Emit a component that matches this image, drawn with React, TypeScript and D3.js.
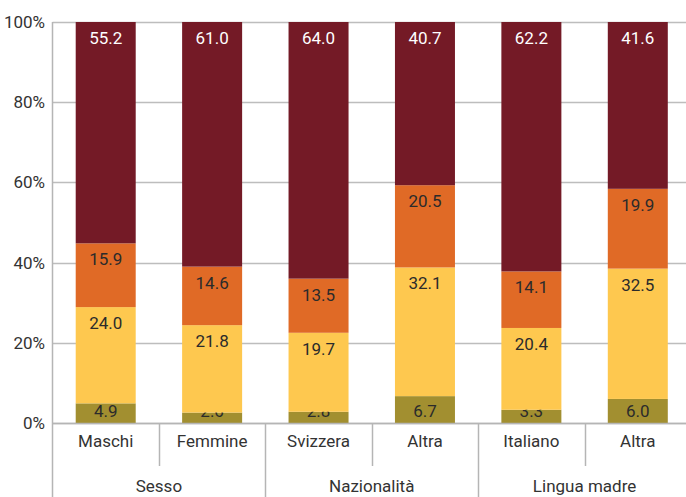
import { useRef, useEffect } from "react";
import * as d3 from "d3";

const categories = ["Maschi", "Femmine", "Svizzera", "Altra", "Italiano", "Altra"];
const groups = ["Sesso", "Nazionalità", "Lingua madre"];
const groupSize = 2;

// bottom -> top
const level1 = [4.9, 2.6, 2.8, 6.7, 3.3, 6.0];
const level2 = [24.0, 21.8, 19.7, 32.1, 20.4, 32.5];
const level3 = [15.9, 14.6, 13.5, 20.5, 14.1, 19.9];
const level4 = [55.2, 61.0, 64.0, 40.7, 62.2, 41.6];

const yTicks = [0, 20, 40, 60, 80, 100];

const colors = ["#a28f30", "#fec84f", "#e06a26", "#741a26"];
const textColors = ["#2b2b2b", "#2b2b2b", "#2b2b2b", "#ffffff"];

const font = "Roboto, 'Liberation Sans Narrow', sans-serif";

export default function App() {
  const ref = useRef<SVGSVGElement>(null);

  useEffect(() => {
    const width = 686;
    const height = 497;
    const left = 52.5;
    const right = 691;
    const top = 22;
    const bottom = 423;

    const svg = d3.select(ref.current);
    svg.selectAll("*").remove();

    const x = d3.scaleBand<number>()
      .domain(d3.range(categories.length))
      .range([left, right])
      .paddingInner(0)
      .paddingOuter(0);
    const y = d3.scaleLinear().domain([0, 100]).range([bottom, top]);

    const rows = categories.map((c, i) => ({
      i, name: c, v: [level1[i], level2[i], level3[i], level4[i]],
    }));
    const stack = d3.stack<any, number>()
      .keys([0, 1, 2, 3])
      .value((d, k) => d.v[k]);
    const series = stack(rows);

    // gridlines
    svg.append("g")
      .selectAll("line")
      .data(yTicks)
      .join("line")
      .attr("x1", left)
      .attr("x2", width)
      .attr("y1", (d) => Math.round(y(d)) + 0.5)
      .attr("y2", (d) => Math.round(y(d)) + 0.5)
      .attr("stroke", "#bdbdbd")
      .attr("stroke-width", 1.5);

    svg.append("g")
      .selectAll("text")
      .data(yTicks)
      .join("text")
      .attr("x", 45)
      .attr("y", (d) => y(d) + 6)
      .attr("text-anchor", "end")
      .attr("font-family", font)
      .attr("font-size", 17)
      .attr("fill", "#333")
      .text((d) => d + "%");

    const barW = 60;
    const off = (x.bandwidth() - barW) / 2;

    // bars
    series.forEach((s, k) => {
      const g = svg.append("g");
      g.selectAll("rect")
        .data(s)
        .join("rect")
        .attr("x", (d: any) => x(d.data.i)! + off)
        .attr("width", barW)
        .attr("y", (d) => y(d[1]))
        .attr("height", (d) => y(d[0]) - y(d[1]))
        .attr("fill", colors[k]);
      g.selectAll("text")
        .data(s)
        .join("text")
        .attr("x", (d: any) => x(d.data.i)! + x.bandwidth() / 2)
        .attr("y", (d) => Math.min(y(d[1]) + 22, bottom - 6))
        .attr("text-anchor", "middle")
        .attr("font-family", font)
        .attr("font-size", 17)
        .attr("fill", textColors[k])
        .text((d: any) => d.data.v[k].toFixed(1));
    });

    // baseline
    svg.append("line")
      .attr("x1", left).attr("x2", width)
      .attr("y1", bottom + 0.5).attr("y2", bottom + 0.5)
      .attr("stroke", "#b5b5b5").attr("stroke-width", 1.5);

    // left axis line
    svg.append("line")
      .attr("x1", left).attr("x2", left)
      .attr("y1", top).attr("y2", height)
      .attr("stroke", "#b5b5b5").attr("stroke-width", 1.5);

    // separators
    d3.range(1, categories.length).forEach((i) => {
      const xx = Math.round(x(i)!) + 0.5;
      const isGroup = i % groupSize === 0;
      svg.append("line")
        .attr("x1", xx).attr("x2", xx)
        .attr("y1", bottom)
        .attr("y2", isGroup ? height : 466)
        .attr("stroke", "#b5b5b5").attr("stroke-width", 1.5);
    });

    // category labels
    svg.append("g")
      .selectAll("text")
      .data(categories)
      .join("text")
      .attr("x", (_, i) => x(i)! + x.bandwidth() / 2)
      .attr("y", 447)
      .attr("text-anchor", "middle")
      .attr("font-family", font)
      .attr("font-size", 17)
      .attr("fill", "#333")
      .text((d) => d);

    // group labels
    svg.append("g")
      .selectAll("text")
      .data(groups)
      .join("text")
      .attr("x", (_, gi) => x(gi * groupSize)! + x.bandwidth())
      .attr("y", 492)
      .attr("text-anchor", "middle")
      .attr("font-family", font)
      .attr("font-size", 17)
      .attr("fill", "#333")
      .text((d) => d);
  }, []);

  return (
    <svg
      ref={ref}
      width={686}
      height={497}
      style={{ position: "fixed", left: 0, top: 0, background: "#fff" }}
    />
  );
}
